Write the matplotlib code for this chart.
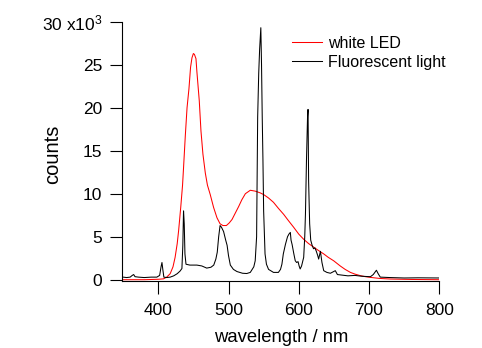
import matplotlib
matplotlib.use('Agg')
import matplotlib.pyplot as plt

# white LED spectrum (wavelength nm, counts / 1000)
led_wl = [350, 380, 400, 407.5, 412, 417, 421, 424, 427, 429, 432, 434.6, 436,
          438.5, 441, 443.7, 446, 448, 450, 451.5, 453.7, 455, 458.4, 460.8,
          463.6, 467, 470, 474, 478.8, 483.6, 488, 492, 497, 501, 505, 510,
          514.4, 519, 524, 531, 538, 545, 550, 557, 564, 571, 578.5, 585,
          592.7, 600, 607, 614, 621, 628, 635.5, 642, 649.7, 659, 666, 673.5,
          680, 687.7, 695, 702, 715, 730, 760, 800]
led_counts = [0.0, 0.0, 0.05, 0.1, 0.3, 0.7, 1.5, 2.6, 4.2, 5.7, 8.4, 11.0, 13.0,
              16.7, 20.0, 22.2, 24.7, 25.8, 26.3, 26.2, 25.7, 24.2, 20.8, 17.3,
              14.6, 12.4, 11.0, 9.9, 8.4, 7.2, 6.5, 6.3, 6.3, 6.6, 7.0, 7.8,
              8.5, 9.3, 10.0, 10.4, 10.3, 10.1, 9.9, 9.5, 9.0, 8.3, 7.6, 6.9,
              6.1, 5.3, 4.7, 4.2, 3.8, 3.4, 3.0, 2.6, 2.2, 1.6, 1.2, 0.85,
              0.65, 0.47, 0.35, 0.27, 0.15, 0.08, 0.03, 0.0]

# fluorescent light spectrum
fl_wl = [350, 355, 360, 363, 365, 367, 372, 380, 390, 398, 402, 404, 405.3,
         406.5, 408, 412, 417, 422, 427, 431, 433.7, 435, 436, 437, 438, 439.5,
         445, 455, 462, 469, 475, 479, 482, 484, 486, 488, 490, 493, 496, 498,
         500, 502.6, 507, 512, 520, 526, 531, 536, 538, 540, 541.5, 543, 544.3,
         546, 547, 548, 549, 550, 552, 554, 557, 564, 571, 574, 576, 578, 581,
         584, 586, 588, 589, 590.5, 593, 595, 597, 599, 600.5, 602, 604, 607,
         608.5, 609.5, 611, 612.5, 613.2, 614, 615.5, 617, 619, 621, 623, 625,
         627, 628.3, 630.8, 633, 635.5, 640, 645, 652, 655, 660, 670, 680, 690,
         702, 706, 710.5, 713, 716, 730, 750, 770, 800]
fl_counts = [0.3, 0.25, 0.3, 0.5, 0.6, 0.35, 0.3, 0.25, 0.3, 0.3, 0.5, 1.5, 2.0,
             1.2, 0.3, 0.25, 0.3, 0.45, 0.7, 1.0, 1.3, 4.0, 8.0, 6.5, 3.0, 1.8,
             1.7, 1.7, 1.6, 1.35, 1.45, 1.7, 2.4, 3.2, 5.0, 6.3, 6.1, 5.6, 4.6, 4.0,
             2.8, 1.7, 1.2, 0.95, 0.75, 0.72, 0.85, 1.5, 2.2, 5.0, 18.9, 24.0, 26.8,
             29.3, 25.0, 18.9, 14.0, 8.0, 3.0, 1.8, 1.2, 0.85, 0.85, 1.2, 1.8, 3.0, 4.1,
             5.0, 5.3, 5.5, 4.6, 4.1, 3.0, 2.2, 2.0, 2.1, 1.6, 1.25, 1.6, 2.6,
             5.0, 7.6, 14.0, 19.0, 19.8, 11.5, 6.5, 4.6, 4.0, 3.6, 3.7, 3.3,
             2.8, 2.4, 3.3, 2.0, 1.05, 0.85, 0.75, 1.05, 0.6, 0.55, 0.45, 0.5, 0.4,
             0.35, 0.6, 1.1, 0.7, 0.3, 0.25, 0.2, 0.22, 0.2]

x_ticks = [400, 500, 600, 700, 800]
y_ticks = [0, 5, 10, 15, 20, 25, 30]
y_tick_labels = ['0', '5', '10', '15', '20', '25', '30 x10$^{3}$']

plt.rcParams['font.family'] = 'Liberation Sans'
plt.rcParams['mathtext.fontset'] = 'custom'
plt.rcParams['mathtext.rm'] = 'Liberation Sans'
plt.rcParams['mathtext.it'] = 'Liberation Sans'
plt.rcParams['font.size'] = 12.5

fig = plt.figure(figsize=(4.82, 3.48), dpi=100)
ax = fig.add_axes([121.7 / 482, 67 / 348, 317.6 / 482, 259.3 / 348])

ax.plot(led_wl, led_counts, color='#ff0000', lw=0.75, label='white LED')
ax.plot(fl_wl, fl_counts, color='black', lw=0.75, label='Fluorescent light')

ax.set_xlim(348, 800)
ax.set_ylim(-0.15, 30)

# only left and bottom axes, outward ticks
for side in ['top', 'right']:
    ax.spines[side].set_visible(False)
for side in ['left', 'bottom']:
    ax.spines[side].set_linewidth(0.8)

ax.set_xticks(x_ticks)
ax.set_yticks(y_ticks)
ax.set_yticklabels(y_tick_labels)
ax.tick_params(direction='out', length=9, width=0.8)
ax.tick_params(axis='x', pad=6.5)
ax.tick_params(axis='y', pad=5)

# axis labels placed by hand (the "x10^3" label would push counts too far left)
ax.set_xlabel('wavelength / nm', fontsize=13.3, va='baseline')
ax.xaxis.set_label_coords(0.501, -0.235)
ax.set_ylabel('counts', fontsize=14.5, va='center')
ax.yaxis.set_label_coords(-0.217, 0.49)

ax.legend(loc='upper left', bbox_to_anchor=(292.3 / 482, 1 - 36 / 348),
          bbox_transform=fig.transFigure, frameon=False, borderpad=0,
          borderaxespad=0, handlelength=1.84, handletextpad=0.41,
          labelspacing=0.25, fontsize=11.5)

fig.savefig('out.png', dpi=100)
